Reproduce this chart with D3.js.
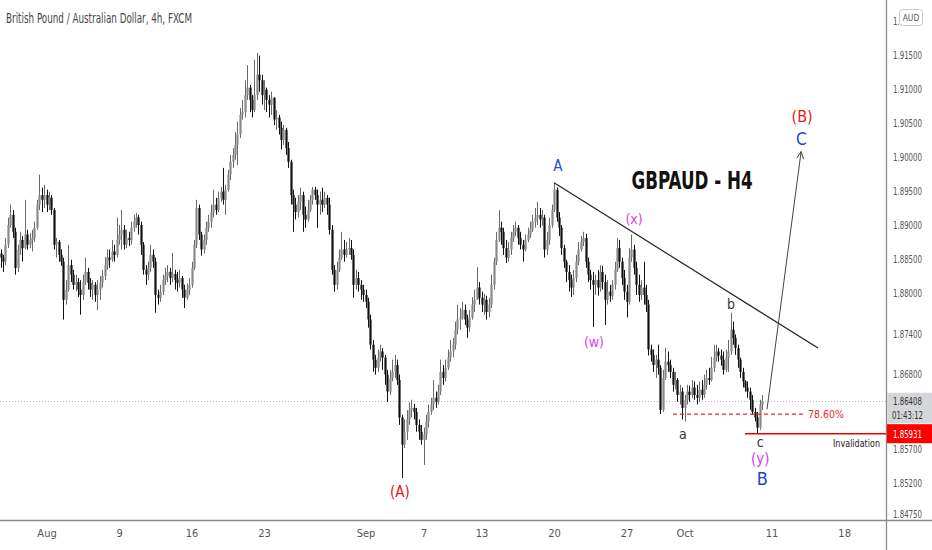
<!DOCTYPE html>
<html><head><meta charset="utf-8">
<script src="https://cdn.jsdelivr.net/npm/d3@7"></script>
<style>html,body{margin:0;padding:0;background:#fff;overflow:hidden}svg{display:block}</style>
</head><body>
<svg id="chart" width="932" height="550"></svg>
<script>
// ---------- DATA (GBPAUD, 4h candles) ----------
const firstCandle = "2021-07-27T20:00:00Z";
const firstOpen = 1.8858;
const closes = [
1.8852,1.8846,1.8871,1.8900,1.8915,1.8890,1.8837,1.8864,1.8878,1.8866,
1.8886,1.8871,1.8878,1.8881,1.8896,1.8930,1.8944,1.8937,1.8944,1.8930,
1.8940,1.8922,1.8871,1.8875,1.8856,1.8846,1.8790,1.8805,1.8841,1.8827,
1.8812,1.8816,1.8805,1.8797,1.8816,1.8831,1.8815,1.8805,1.8812,1.8797,
1.8805,1.8815,1.8825,1.8841,1.8852,1.8849,1.8861,1.8856,1.8878,1.8886,
1.8893,1.8871,1.8881,1.8878,1.8896,1.8905,1.8911,1.8900,1.8871,1.8834,
1.8827,1.8837,1.8856,1.8846,1.8797,1.8793,1.8802,1.8819,1.8825,1.8831,
1.8822,1.8828,1.8819,1.8815,1.8822,1.8805,1.8793,1.8805,1.8812,1.8837,
1.8871,1.8925,1.8886,1.8864,1.8878,1.8896,1.8905,1.8919,1.8930,1.8922,
1.8940,1.8949,1.8937,1.8952,1.8974,1.8993,1.9003,1.9018,1.9033,1.9062,
1.9066,1.9091,1.9102,1.9084,1.9069,1.9091,1.9121,1.9113,1.9091,1.9099,
1.9084,1.9077,1.9087,1.9055,1.9058,1.9043,1.9025,1.9040,1.9013,1.8993,
1.8944,1.8930,1.8919,1.8934,1.8944,1.8915,1.8908,1.8922,1.8937,1.8952,
1.8944,1.8930,1.8937,1.8930,1.8940,1.8930,1.8893,1.8834,1.8812,1.8834,
1.8852,1.8864,1.8856,1.8864,1.8866,1.8856,1.8812,1.8822,1.8812,1.8805,
1.8797,1.8787,1.8761,1.8724,1.8702,1.8690,1.8705,1.8714,1.8705,1.8680,
1.8655,1.8675,1.8684,1.8694,1.8672,1.8617,1.8577,1.8596,1.8614,1.8628,
1.8631,1.8625,1.8606,1.8596,1.8584,1.8592,1.8611,1.8625,1.8636,1.8646,
1.8640,1.8655,1.8684,1.8675,1.8690,1.8705,1.8714,1.8724,1.8746,1.8761,
1.8764,1.8775,1.8761,1.8749,1.8764,1.8783,1.8790,1.8808,1.8793,1.8783,
1.8790,1.8772,1.8783,1.8812,1.8846,1.8878,1.8896,1.8890,1.8866,1.8852,
1.8864,1.8881,1.8890,1.8896,1.8881,1.8871,1.8864,1.8878,1.8886,1.8893,
1.8905,1.8911,1.8915,1.8908,1.8911,1.8864,1.8878,1.8900,1.8922,1.8952,
1.8911,1.8896,1.8866,1.8846,1.8831,1.8819,1.8808,1.8822,1.8846,1.8864,
1.8875,1.8881,1.8846,1.8827,1.8819,1.8812,1.8819,1.8808,1.8831,1.8816,
1.8790,1.8802,1.8796,1.8812,1.8834,1.8866,1.8846,1.8822,1.8802,1.8787,
1.8852,1.8864,1.8837,1.8812,1.8797,1.8808,1.8797,1.8783,1.8717,1.8709,
1.8694,1.8702,1.8690,1.8628,1.8675,1.8699,1.8694,1.8684,1.8665,1.8672,
1.8650,1.8655,1.8631,1.8643,1.8655,1.8650,1.8661,1.8650,1.8646,1.8658,
1.8650,1.8665,1.8675,1.8672,1.8690,1.8705,1.8714,1.8708,1.8702,1.8687,
1.8705,1.8714,1.8746,1.8734,1.8719,1.8702,1.8684,1.8670,1.8661,1.8655,
1.8643,1.8625,1.8617,1.8602,1.8636,1.86408];
const highs = [
1.8864,1.8856,1.8881,1.8911,1.8930,1.8922,1.8896,1.8871,1.8890,1.8884,
1.8937,1.8893,1.8888,1.8893,1.8905,1.8937,1.8974,1.8955,1.8959,1.8952,
1.8949,1.8944,1.8925,1.8881,1.8878,1.8864,1.8852,1.8819,1.8871,1.8849,
1.8834,1.8827,1.8822,1.8819,1.8827,1.8852,1.8837,1.8822,1.8819,1.8816,
1.8819,1.8825,1.8834,1.8853,1.8864,1.8864,1.8878,1.8871,1.8911,1.8900,
1.8922,1.8900,1.8893,1.8890,1.8905,1.8915,1.8918,1.8915,1.8905,1.8875,
1.8841,1.8846,1.8871,1.8864,1.8852,1.8805,1.8812,1.8827,1.8837,1.8841,
1.8837,1.8859,1.8834,1.8831,1.8834,1.8825,1.8812,1.8814,1.8822,1.8846,
1.8878,1.8937,1.8930,1.8890,1.8886,1.8905,1.8915,1.8930,1.8952,1.8940,
1.8949,1.8956,1.8984,1.8959,1.8981,1.9003,1.9013,1.9037,1.9052,1.9072,
1.9084,1.9113,1.9135,1.9106,1.9091,1.9143,1.9153,1.9149,1.9121,1.9113,
1.9102,1.9091,1.9096,1.9088,1.9069,1.9062,1.9052,1.9047,1.9043,1.9022,
1.8996,1.8952,1.8940,1.8944,1.8955,1.8949,1.8927,1.8937,1.8944,1.8956,
1.8956,1.8952,1.8949,1.8955,1.8949,1.8944,1.8940,1.8900,1.8841,1.8846,
1.8864,1.8890,1.8878,1.8875,1.8881,1.8878,1.8864,1.8834,1.8831,1.8819,
1.8812,1.8805,1.8793,1.8768,1.8731,1.8709,1.8717,1.8724,1.8719,1.8709,
1.8687,1.8687,1.8702,1.8709,1.8702,1.8680,1.8621,1.8614,1.8628,1.8639,
1.8643,1.8637,1.8631,1.8614,1.8606,1.8602,1.8621,1.8636,1.8646,1.8672,
1.8655,1.8665,1.8702,1.8694,1.8702,1.8717,1.8731,1.8734,1.8758,1.8783,
1.8778,1.8787,1.8783,1.8768,1.8775,1.8794,1.8805,1.8838,1.8816,1.8802,
1.8799,1.8796,1.8793,1.8827,1.8852,1.8890,1.8922,1.8905,1.8896,1.8878,
1.8875,1.8890,1.8900,1.8905,1.8900,1.8890,1.8878,1.8886,1.8896,1.8905,
1.8915,1.8925,1.8934,1.8925,1.8922,1.8915,1.8890,1.8911,1.8930,1.8962,
1.8955,1.8919,1.8900,1.8871,1.8849,1.8841,1.8827,1.8834,1.8856,1.8875,
1.8884,1.8890,1.8887,1.8852,1.8834,1.8831,1.8827,1.8834,1.8841,1.8840,
1.8827,1.8819,1.8812,1.8819,1.8846,1.8881,1.8878,1.8852,1.8834,1.8812,
1.8866,1.8886,1.8871,1.8846,1.8827,1.8819,1.8846,1.8812,1.8790,1.8724,
1.8717,1.8709,1.8724,1.8694,1.8687,1.8719,1.8714,1.8702,1.8690,1.8684,
1.8675,1.8665,1.8661,1.8650,1.8665,1.8664,1.8672,1.8670,1.8665,1.8670,
1.8672,1.8680,1.8687,1.8690,1.8706,1.8724,1.8724,1.8719,1.8717,1.8714,
1.8717,1.8731,1.8771,1.8758,1.8739,1.8724,1.8705,1.8690,1.8672,1.8670,
1.8661,1.8650,1.8631,1.8625,1.8643,1.8650];
const lows = [
1.8837,1.8831,1.8841,1.8866,1.8896,1.8881,1.8827,1.8831,1.8856,1.8846,
1.8864,1.8864,1.8866,1.8861,1.8875,1.8893,1.8922,1.8919,1.8925,1.8919,
1.8922,1.8915,1.8864,1.8852,1.8846,1.8840,1.8761,1.8783,1.8802,1.8816,
1.8805,1.8802,1.8794,1.8768,1.8790,1.8812,1.8805,1.8794,1.8790,1.8787,
1.8775,1.8790,1.8808,1.8819,1.8834,1.8837,1.8846,1.8846,1.8852,1.8871,
1.8864,1.8864,1.8866,1.8869,1.8871,1.8890,1.8896,1.8886,1.8856,1.8827,
1.8812,1.8819,1.8831,1.8837,1.8771,1.8783,1.8787,1.8797,1.8812,1.8816,
1.8812,1.8816,1.8805,1.8802,1.8808,1.8793,1.8778,1.8790,1.8797,1.8808,
1.8834,1.8866,1.8878,1.8855,1.8858,1.8871,1.8890,1.8896,1.8911,1.8915,
1.8919,1.8934,1.8930,1.8915,1.8949,1.8966,1.8984,1.8996,1.8988,1.9028,
1.9055,1.9058,1.9084,1.9066,1.9058,1.9066,1.9084,1.9096,1.9077,1.9069,
1.9066,1.9058,1.9062,1.9047,1.9040,1.9033,1.9011,1.9018,1.9003,1.8984,
1.8930,1.8890,1.8908,1.8911,1.8922,1.8890,1.8896,1.8905,1.8919,1.8930,
1.8937,1.8896,1.8915,1.8919,1.8925,1.8915,1.8886,1.8827,1.8802,1.8805,
1.8831,1.8849,1.8846,1.8852,1.8856,1.8849,1.8793,1.8805,1.8802,1.8790,
1.8787,1.8778,1.8749,1.8717,1.8684,1.8680,1.8684,1.8699,1.8687,1.8665,
1.8640,1.8650,1.8670,1.8675,1.8665,1.8606,1.8528,1.8572,1.8584,1.8606,
1.8617,1.8614,1.8596,1.8584,1.8577,1.8547,1.8584,1.8602,1.8621,1.8628,
1.8631,1.8636,1.8650,1.8665,1.8670,1.8687,1.8699,1.8705,1.8717,1.8739,
1.8746,1.8761,1.8753,1.8734,1.8743,1.8761,1.8772,1.8793,1.8783,1.8772,
1.8768,1.8761,1.8764,1.8778,1.8805,1.8841,1.8875,1.8871,1.8856,1.8844,
1.8846,1.8856,1.8875,1.8884,1.8871,1.8864,1.8846,1.8861,1.8875,1.8881,
1.8890,1.8896,1.8900,1.8896,1.8899,1.8852,1.8856,1.8871,1.8896,1.8919,
1.8905,1.8884,1.8856,1.8837,1.8816,1.8802,1.8794,1.8797,1.8816,1.8841,
1.8861,1.8869,1.8837,1.8816,1.8805,1.8750,1.8797,1.8796,1.8802,1.8805,
1.8753,1.8783,1.8787,1.8790,1.8805,1.8831,1.8837,1.8812,1.8790,1.8764,
1.8783,1.8846,1.8827,1.8797,1.8787,1.8790,1.8783,1.8772,1.8708,1.8699,
1.8684,1.8675,1.8680,1.8622,1.8625,1.8672,1.8684,1.8675,1.8655,1.8658,
1.8640,1.8636,1.8614,1.8611,1.8636,1.8640,1.8646,1.8643,1.8636,1.8640,
1.8643,1.8646,1.8658,1.8665,1.8670,1.8684,1.8699,1.8699,1.8693,1.8680,
1.8684,1.8684,1.8709,1.8724,1.8709,1.8690,1.8675,1.8661,1.8655,1.8646,
1.8628,1.8621,1.8611,1.85931,1.8599,1.8628];

const xTickDates  = ["2021-08-02","2021-08-09","2021-08-16","2021-08-23","2021-09-01","2021-09-07","2021-09-13","2021-09-20","2021-09-27","2021-10-01","2021-10-11","2021-10-18"];
const xTickLabels = ["Aug","9","16","23","Sep","7","13","20","27","Oct","11","18"];
const yTickValues = [1.92,1.915,1.91,1.905,1.90,1.895,1.89,1.885,1.88,1.874,1.868,1.857,1.852,1.8475];

const lastPrice = 1.86408, countdown = "01:43:12";
const invalidation = 1.85931;
const fibLevel = 1.8622, fibText = "78.60%";
const symbolTitle = "British Pound / Australian Dollar, 4h, FXCM";
const chartTitle = "GBPAUD - H4";
const currency = "AUD";

// Elliott-wave labels: candle index / price anchors
const waveLabels = [
  {t:"A",   i:230.6, p:1.8979, c:"#2a4fd6", s:15},
  {t:"(x)", i:262.1, p:1.8902, c:"#e03cf0", s:14},
  {t:"(w)", i:245.5, p:1.8721, c:"#e03cf0", s:14},
  {t:"b",   i:302.2, p:1.8776, c:"#333",    s:14},
  {t:"a",   i:282.3, p:1.8586, c:"#333",    s:14},
  {t:"c",   i:314.3, p:1.8573, c:"#333",    s:14},
  {t:"(y)", i:314.3, p:1.8549, c:"#e03cf0", s:15},
  {t:"B",   i:315.1, p:1.8518, c:"#1f3fd0", s:18},
  {t:"(A)", i:165.2, p:1.8500, c:"#e0201c", s:15},
  {t:"(B)", i:331.6, p:1.9052, c:"#e0201c", s:16},
  {t:"C",   i:331.3, p:1.9018, c:"#1f3fd0", s:17}
];
const trendLine = {i0:229, p0:1.8962, i1:338.2, p1:1.8719};
const projArrow = {i0:317.1, p0:1.8629, i1:331.2, p1:1.9008};
const fibSpan = {i0:278.2, i1:332.8, textI:334.0};
const invSpan = {i0:308.0, textI:344.4};
const titleAnchor = {i:286.1, p:1.89529};

// ---------- DRAW ----------
const NARROW = "'Liberation Sans Narrow','Arial Narrow','DejaVu Sans Condensed',sans-serif";
const svg = d3.select("#chart");
const W = 932, H = 550, plotR = 886, axisY = 520;

const x = d3.scaleLinear().domain([0, 366]).range([0.6, 0.6 + 366 * 2.417]);
const y = d3.scaleLinear().domain([1.8475, 1.915]).range([514, 55]);

// trading-time index for candles (Mon–Fri, 4h bars)
const times = [];
let t = new Date(firstCandle);
while (times.length < 400) {
  const d = t.getUTCDay();
  if (d !== 0 && d !== 6) times.push(new Date(t));
  t = new Date(t.getTime() + 4 * 3600e3);
}
const idxOfDate = s => times.findIndex(tt => tt >= new Date(s + "T00:00:00Z"));
const xTickIdx = xTickDates.map(idxOfDate);

svg.append("rect").attr("width", W).attr("height", H).attr("fill", "#fff");

svg.append("clipPath").attr("id", "plotclip").append("rect")
  .attr("x", 0).attr("y", 0).attr("width", plotR).attr("height", axisY);
const plot = svg.append("g").attr("clip-path", "url(#plotclip)");

// current price dotted line
plot.append("line").attr("x1", 0).attr("x2", plotR)
  .attr("y1", Math.round(y(lastPrice)) + 0.5).attr("y2", Math.round(y(lastPrice)) + 0.5)
  .attr("stroke", "#b5b5b5").attr("stroke-width", 1).attr("stroke-dasharray", "1 2");

// candles
const candles = closes.map((c, i) => {
  const o = i ? closes[i - 1] : firstOpen;
  return {i, o, c, h: Math.max(highs[i], o, c), l: Math.min(lows[i], o, c)};
});
const cg = plot.append("g");
cg.selectAll("line.wick").data(candles).join("line").attr("class", "wick")
  .attr("x1", d => Math.round(x(d.i)) + 0.5).attr("x2", d => Math.round(x(d.i)) + 0.5)
  .attr("y1", d => y(d.h)).attr("y2", d => y(d.l))
  .attr("stroke", d => d.c >= d.o ? "#6a6a6a" : "#111").attr("stroke-width", 1);
cg.selectAll("rect.body").data(candles).join("rect").attr("class", "body")
  .attr("x", d => Math.round(x(d.i)) - 0.6).attr("width", 2.2)
  .attr("y", d => y(Math.max(d.o, d.c)))
  .attr("height", d => Math.max(1, Math.abs(y(d.o) - y(d.c))))
  .attr("fill", d => d.c >= d.o ? "#8a8a8a" : "#111");

// trend line
plot.append("line")
  .attr("x1", x(trendLine.i0)).attr("y1", y(trendLine.p0))
  .attr("x2", x(trendLine.i1)).attr("y2", y(trendLine.p1))
  .attr("stroke", "#222").attr("stroke-width", 1.2);

// projection arrow
{
  const ax0 = x(projArrow.i0), ay0 = y(projArrow.p0), ax1 = x(projArrow.i1), ay1 = y(projArrow.p1);
  plot.append("line").attr("x1", ax0).attr("y1", ay0).attr("x2", ax1).attr("y2", ay1)
    .attr("stroke", "#444").attr("stroke-width", 1);
  const ang = Math.atan2(ay0 - ay1, ax0 - ax1), L = 8, spread = 0.45;
  const pts = [[ax1 + L * Math.cos(ang - spread), ay1 + L * Math.sin(ang - spread)], [ax1, ay1],
               [ax1 + L * Math.cos(ang + spread), ay1 + L * Math.sin(ang + spread)]];
  plot.append("path").attr("d", d3.line()(pts)).attr("fill", "none").attr("stroke", "#444").attr("stroke-width", 1);
}

// fib 78.6% dashed line
plot.append("line").attr("x1", x(fibSpan.i0)).attr("x2", x(fibSpan.i1))
  .attr("y1", y(fibLevel)).attr("y2", y(fibLevel))
  .attr("stroke", "#f0262b").attr("stroke-width", 1.2).attr("stroke-dasharray", "4 3");
plot.append("text").attr("x", x(fibSpan.textI)).attr("y", y(fibLevel) + 3.5)
  .attr("font-family", NARROW).attr("font-size", 10.5).attr("fill", "#f0262b").text(fibText);

// invalidation line
plot.append("line").attr("x1", x(invSpan.i0)).attr("x2", plotR)
  .attr("y1", y(invalidation)).attr("y2", y(invalidation))
  .attr("stroke", "#f00000").attr("stroke-width", 1.5);
plot.append("text").attr("x", x(invSpan.textI)).attr("y", y(invalidation) + 13)
  .attr("font-family", NARROW).attr("font-size", 10.5).attr("fill", "#222")
  .attr("textLength", 47).attr("lengthAdjust", "spacingAndGlyphs").text("Invalidation");

// wave labels
plot.selectAll("text.wave").data(waveLabels).join("text").attr("class", "wave")
  .attr("x", d => x(d.i)).attr("y", d => y(d.p))
  .attr("text-anchor", "middle").attr("font-family", NARROW)
  .attr("font-size", d => d.s).attr("fill", d => d.c).text(d => d.t);

// big title
plot.append("text").attr("x", x(titleAnchor.i)).attr("y", y(titleAnchor.p))
  .attr("text-anchor", "middle").attr("font-family", NARROW).attr("font-weight", 700)
  .attr("font-size", 25).attr("fill", "#111")
  .attr("textLength", 121).attr("lengthAdjust", "spacingAndGlyphs").text(chartTitle);

// symbol title
svg.append("text").attr("x", 6).attr("y", 22.5).attr("font-family", NARROW)
  .attr("font-size", 14.5).attr("fill", "#474747")
  .attr("textLength", 186).attr("lengthAdjust", "spacingAndGlyphs").text(symbolTitle);

// axes lines
svg.append("line").attr("x1", 0).attr("x2", W).attr("y1", axisY + 0.5).attr("y2", axisY + 0.5)
  .attr("stroke", "#8a8a8a").attr("stroke-width", 1.6);
svg.append("line").attr("x1", plotR + 0.5).attr("x2", plotR + 0.5).attr("y1", 0).attr("y2", H)
  .attr("stroke", "#8a8a8a").attr("stroke-width", 1.3);

// bottom axis
const xAxis = d3.axisBottom(x).tickValues(xTickIdx).tickFormat((d, k) => xTickLabels[k]).tickSize(0).tickPadding(9);
const gx = svg.append("g").attr("transform", `translate(0,${axisY})`).call(xAxis);
gx.select(".domain").remove();
gx.selectAll("text").attr("font-family", NARROW).attr("font-size", 11).attr("fill", "#555");

// right axis
const yAxis = d3.axisRight(y).tickValues(yTickValues).tickFormat(d3.format(".5f")).tickSize(0).tickPadding(7);
const gy = svg.append("g").attr("transform", `translate(${plotR},0)`).call(yAxis);
gy.select(".domain").remove();
gy.selectAll("text").attr("font-family", NARROW).attr("font-size", 10.5).attr("fill", "#555")
  .attr("textLength", 29).attr("lengthAdjust", "spacingAndGlyphs");

// last price box
{
  const yp = y(lastPrice);
  svg.append("rect").attr("x", plotR + 1).attr("y", yp - 8.5).attr("width", W - plotR - 1).attr("height", 30.5).attr("fill", "#d5d6d9");
  svg.append("text").attr("x", 893).attr("y", yp + 3.8).attr("font-family", NARROW).attr("font-size", 10.5)
    .attr("fill", "#333").attr("textLength", 29).attr("lengthAdjust", "spacingAndGlyphs").text(lastPrice.toFixed(5));
  svg.append("text").attr("x", 892).attr("y", yp + 17.5).attr("font-family", NARROW).attr("font-size", 10)
    .attr("fill", "#333").attr("textLength", 31).attr("lengthAdjust", "spacingAndGlyphs").text(countdown);
}
// invalidation price box
{
  const yi = y(invalidation);
  svg.append("rect").attr("x", plotR + 1).attr("y", yi - 9.5).attr("width", W - plotR - 1).attr("height", 19).attr("fill", "#ff0000");
  svg.append("text").attr("x", 893).attr("y", yi + 4).attr("font-family", NARROW).attr("font-size", 10.5)
    .attr("fill", "#fff").attr("textLength", 29).attr("lengthAdjust", "spacingAndGlyphs").text(invalidation.toFixed(5));
}
// currency badge (covers the top price label, as in the reference)
svg.append("rect").attr("x", 899.5).attr("y", 9.5).attr("width", 23).attr("height", 16).attr("rx", 3)
  .attr("fill", "#fff").attr("stroke", "#c8c8c8");
svg.append("text").attr("x", 911).attr("y", 21).attr("text-anchor", "middle").attr("font-family", NARROW)
  .attr("font-size", 8.5).attr("fill", "#555").text(currency);
</script>
</body></html>
